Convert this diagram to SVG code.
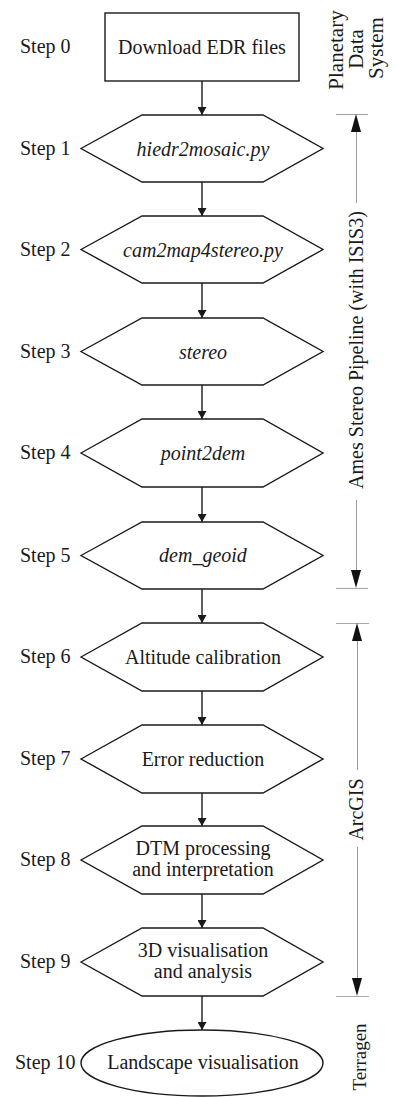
<svg xmlns="http://www.w3.org/2000/svg" width="395" height="1097" viewBox="0 0 395 1097">
<defs>
<style>
.shape{fill:#fff;stroke:#1a1a1a;stroke-width:1.4}
.t{font-family:"Liberation Serif","Times New Roman",serif;font-size:20px;fill:#1a1a1a}
.c{text-anchor:middle}
.i{font-style:italic}
.conn{stroke:#1a1a1a;stroke-width:1.4;fill:none;marker-end:url(#ah)}
.dim{stroke:#9a9a9a;stroke-width:1;fill:none}
.tick{stroke:#aaaaaa;stroke-width:1.2}
.dh{fill:#111}
</style>
<marker id="ah" viewBox="0 0 8 9" refX="8" refY="4.5" markerWidth="8" markerHeight="9" markerUnits="userSpaceOnUse" orient="auto">
<path d="M0,0 L8,4.5 L0,9 Z" fill="#1a1a1a"/>
</marker>
</defs>
<rect width="395" height="1097" fill="#fff"/>

<g id="labels">
<text class="t" x="20" y="53">Step 0</text>
<text class="t" x="20" y="155">Step 1</text>
<text class="t" x="20" y="256">Step 2</text>
<text class="t" x="20" y="358">Step 3</text>
<text class="t" x="20" y="459">Step 4</text>
<text class="t" x="20" y="562">Step 5</text>
<text class="t" x="20" y="663">Step 6</text>
<text class="t" x="20" y="765">Step 7</text>
<text class="t" x="20" y="866">Step 8</text>
<text class="t" x="20" y="968">Step 9</text>
<text class="t" x="15" y="1069">Step 10</text>
</g>

<g id="connectors">
<line class="conn" x1="202" y1="81" x2="202" y2="115"/>
<line class="conn" x1="202" y1="182" x2="202" y2="216"/>
<line class="conn" x1="202" y1="283" x2="202" y2="318"/>
<line class="conn" x1="202" y1="385" x2="202" y2="419"/>
<line class="conn" x1="202" y1="487" x2="202" y2="522"/>
<line class="conn" x1="202" y1="589" x2="202" y2="623"/>
<line class="conn" x1="202" y1="691" x2="202" y2="725"/>
<line class="conn" x1="202" y1="793" x2="202" y2="826"/>
<line class="conn" x1="202" y1="894" x2="202" y2="928"/>
<line class="conn" x1="202" y1="996" x2="202" y2="1030"/>
</g>

<g id="step0">
<rect class="shape" x="105" y="13" width="194" height="68"/>
<text class="t c" x="202" y="54">Download EDR files</text>
</g>
<g id="step1">
<polygon class="shape" points="81,148.5 142,115 263,115 323,148.5 263,182 142,182"/>
<text class="t c i" x="203" y="156">hiedr2mosaic.py</text>
</g>
<g id="step2">
<polygon class="shape" points="81,249.5 142,216 263,216 323,249.5 263,283 142,283"/>
<text class="t c i" x="203" y="257">cam2map4stereo.py</text>
</g>
<g id="step3">
<polygon class="shape" points="81,351.5 142,318 263,318 323,351.5 263,385 142,385"/>
<text class="t c i" x="203" y="359">stereo</text>
</g>
<g id="step4">
<polygon class="shape" points="81,453 142,419 263,419 323,453 263,487 142,487"/>
<text class="t c i" x="203" y="460">point2dem</text>
</g>
<g id="step5">
<polygon class="shape" points="81,555.5 142,522 263,522 323,555.5 263,589 142,589"/>
<text class="t c i" x="203" y="562">dem_geoid</text>
</g>
<g id="step6">
<polygon class="shape" points="81,657 142,623 263,623 323,657 263,691 142,691"/>
<text class="t c" x="203" y="664">Altitude calibration</text>
</g>
<g id="step7">
<polygon class="shape" points="81,759 142,725 263,725 323,759 263,793 142,793"/>
<text class="t c" x="203" y="766">Error reduction</text>
</g>
<g id="step8">
<polygon class="shape" points="81,860 142,826 263,826 323,860 263,894 142,894"/>
<text class="t c" x="203" y="855">DTM processing</text>
<text class="t c" x="203" y="876">and interpretation</text>
</g>
<g id="step9">
<polygon class="shape" points="81,962 142,928 263,928 323,962 263,996 142,996"/>
<text class="t c" x="203" y="957">3D visualisation</text>
<text class="t c" x="203" y="978">and analysis</text>
</g>
<g id="step10">
<ellipse class="shape" cx="202" cy="1063" rx="121" ry="33"/>
<text class="t c" x="203" y="1069">Landscape visualisation</text>
</g>

<g id="pds">
<text class="t c" style="font-size:21px" transform="translate(343,50) rotate(-90)">Planetary</text>
<text class="t c" style="font-size:21px" transform="translate(363,49) rotate(-90)">Data</text>
<text class="t c" style="font-size:21px" transform="translate(383,48) rotate(-90)">System</text>
</g>

<g id="ames">
<line class="tick" x1="336" y1="114.5" x2="368" y2="114.5"/>
<polygon class="dh" points="356,114 351,132 361,132"/>
<line class="dim" x1="356.5" y1="132" x2="356.5" y2="203"/>
<text class="t c" transform="translate(363,350) rotate(-90)">Ames Stereo Pipeline (with ISIS3)</text>
<line class="dim" x1="356.5" y1="500" x2="356.5" y2="570"/>
<polygon class="dh" points="356,588 351,570 361,570"/>
<line class="tick" x1="336" y1="588.5" x2="368" y2="588.5"/>
</g>

<g id="arcgis">
<line class="tick" x1="336" y1="623.5" x2="369" y2="623.5"/>
<polygon class="dh" points="357,623 352,641 362,641"/>
<line class="dim" x1="357.5" y1="641" x2="357.5" y2="770"/>
<text class="t c" transform="translate(363,809.5) rotate(-90)">ArcGIS</text>
<line class="dim" x1="357.5" y1="847" x2="357.5" y2="978"/>
<polygon class="dh" points="357,996 352,978 362,978"/>
<line class="tick" x1="336" y1="996.5" x2="369" y2="996.5"/>
</g>

<g id="terragen">
<text class="t c" style="font-size:19px" transform="translate(366,1057) rotate(-90)">Terragen</text>
</g>
</svg>
